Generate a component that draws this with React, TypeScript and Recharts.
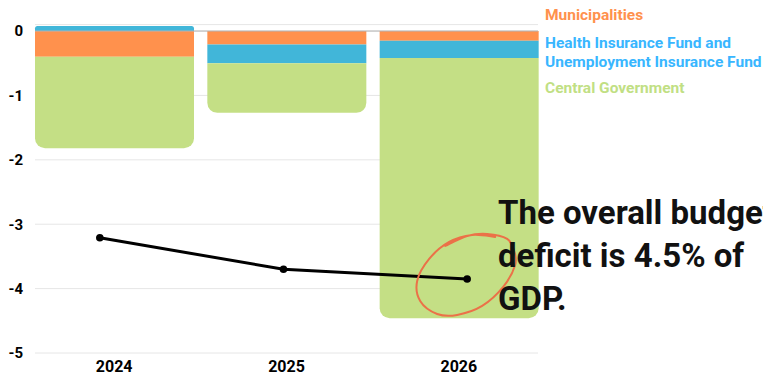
import React from 'react';
import { ComposedChart, Bar, Line, Cell, XAxis, YAxis, CartesianGrid, ReferenceLine } from 'recharts';

const years = ['2024', '2025', '2026'];
const municipalities = [-0.4, -0.21, -0.15];
const healthUnemployment = [0.08, -0.29, -0.27];
const centralGovernment = [-1.42, -0.77, -4.04];
const overallDeficit = [-3.21, -3.7, -3.85];
const yTicks = [0, -1, -2, -3, -4, -5];

const data = years.map((year, i) => ({
  year,
  municipalities: municipalities[i],
  health: healthUnemployment[i],
  central: centralGovernment[i],
  total: overallDeficit[i],
}));

const ORANGE = '#FF914D';
const BLUE = '#41B6D9';
const GREEN = '#C4DF85';

const yTickStyle = { fill: '#000', fontSize: 15, fontWeight: 700, fontFamily: 'Roboto' };
const xTickStyle = { fill: '#000', fontSize: 16, fontWeight: 700, fontFamily: 'Roboto' };

// hand drawn ring around the last point, offsets from the dot
const scribble: [number, number][] = [
  [-22, -33], [0, -43], [20, -45], [40, -40], [47, -28], [48, -14], [36, 8], [15, 27],
  [-10, 36], [-30, 35], [-47, 22], [-50, 2], [-38, -20], [-18, -37], [5, -44], [28, -42],
];

const smoothPath = (pts: [number, number][]) => {
  let d = `M${pts[0][0]},${pts[0][1]}`;
  for (let i = 0; i < pts.length - 1; i++) {
    const p0 = pts[i - 1] || pts[i];
    const p1 = pts[i];
    const p2 = pts[i + 1];
    const p3 = pts[i + 2] || p2;
    const c1 = [p1[0] + (p2[0] - p0[0]) / 6, p1[1] + (p2[1] - p0[1]) / 6];
    const c2 = [p2[0] - (p3[0] - p1[0]) / 6, p2[1] - (p3[1] - p1[1]) / 6];
    d += ` C${c1[0]},${c1[1]} ${c2[0]},${c2[1]} ${p2[0]},${p2[1]}`;
  }
  return d;
};

const LineDot = (props: any) => {
  const { cx, cy, index } = props;
  return (
    <g key={`dot-${index}`}>
      {index === years.length - 1 && (
        <path
          d={smoothPath(scribble)}
          transform={`translate(${cx},${cy})`}
          fill='none'
          stroke='#EB7148'
          strokeWidth={2}
          strokeLinecap='round'
        />
      )}
      <circle cx={cx} cy={cy} r={3.8} fill='#000' />
    </g>
  );
};

const legendText = { position: 'absolute' as const, left: 545, fontFamily: 'Roboto', fontWeight: 700, fontSize: 15.5, lineHeight: '19px', whiteSpace: 'nowrap' as const };

export default function App() {
  return (
    <div style={{ position: 'absolute', left: 0, top: 0, width: 763, height: 375, overflow: 'hidden', background: '#fff' }}>
      <ComposedChart width={763} height={375} data={data} stackOffset='sign' margin={{ top: 24.6, right: 225, bottom: 0, left: 0 }}>
        <CartesianGrid xAxisId='bars' horizontal vertical={false} stroke='#E6E6E6' />
        <XAxis xAxisId='bars' dataKey='year' tick={xTickStyle} tickLine={false} axisLine={false} tickSize={0} tickMargin={8} height={22} padding={{ left: -7, right: -7 }} />
        <XAxis xAxisId='line' dataKey='year' hide padding={{ left: -27, right: -21 }} />
        <YAxis domain={[-5, 0.1]} ticks={yTicks} width={35} tick={yTickStyle} tickLine={false} axisLine={false} tickSize={0} tickMargin={12} />
        <ReferenceLine xAxisId='bars' y={0} stroke='#B5B5B5' />
        <Bar xAxisId='bars' dataKey='municipalities' stackId='a' fill={ORANGE} barSize={159} isAnimationActive={false} />
        <Bar xAxisId='bars' dataKey='health' stackId='a' fill={BLUE} barSize={159} isAnimationActive={false}>
          {healthUnemployment.map((v, i) => (
            <Cell key={i} fill={BLUE} radius={v > 0 ? [5, 5, 0, 0] : 0} />
          ))}
        </Bar>
        <Bar xAxisId='bars' dataKey='central' stackId='a' fill={GREEN} barSize={159} radius={[10, 10, 0, 0]} isAnimationActive={false} />
        <Line xAxisId='line' dataKey='total' stroke='#000' strokeWidth={3} dot={LineDot} activeDot={false} isAnimationActive={false} />
      </ComposedChart>
      <div style={{ ...legendText, top: 5.5, color: ORANGE }}>Municipalities</div>
      <div style={{ ...legendText, top: 33.5, color: '#38B6FF' }}>
        Health Insurance Fund and
        <br />
        Unemployment Insurance Fund
      </div>
      <div style={{ ...legendText, top: 78.5, color: '#C1DF84' }}>Central Government</div>
      <div
        style={{
          position: 'absolute',
          left: 498,
          top: 190.5,
          fontFamily: 'Roboto',
          fontWeight: 700,
          fontSize: 33,
          lineHeight: '43px',
          color: '#111',
          whiteSpace: 'nowrap',
        }}
      >
        The overall budget
        <br />
        deficit is 4.5% of
        <br />
        GDP.
      </div>
    </div>
  );
}
